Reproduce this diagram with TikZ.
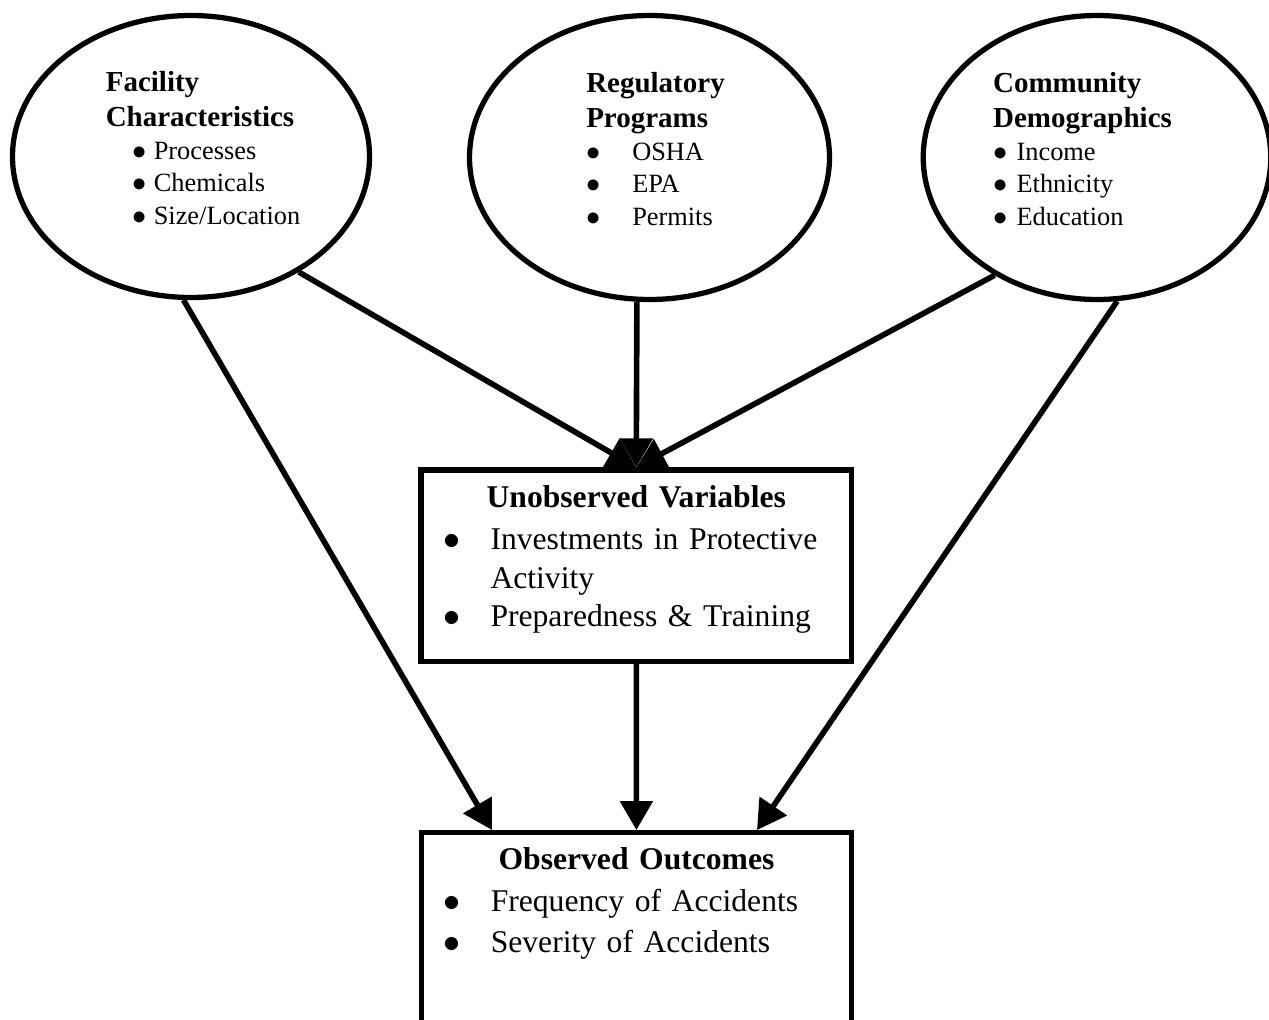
\documentclass[tikz,border=0pt]{standalone}
\usepackage{fontspec}
\setmainfont{Liberation Serif}
\usetikzlibrary{arrows.meta,shapes.geometric}
\newcommand{\hdfont}{\fontsize{16.5}{19.5}\selectfont\bfseries}
\newcommand{\ptfont}{\fontsize{15}{18.5}\selectfont}
\newcommand{\bxfont}{\fontsize{18}{22}\selectfont}
\newcommand{\bigdot}{\scalebox{1.12}{$\bullet$}}
\newcommand{\bul}[2]{\makebox[#1][l]{\bigdot}#2}
\newcommand{\bitem}[1]{\par\hangindent=0.94cm\hangafter=1\noindent\makebox[0.94cm][l]{\bigdot}#1}

\begin{document}
\begin{tikzpicture}[
  blob/.style={ellipse, draw, line width=3pt, inner sep=0pt, font=\ptfont},
  box/.style={rectangle, draw, line width=3pt, minimum width=8.61cm,
              text width=7.71cm, inner xsep=0.45cm, align=left, font=\bxfont},
  arr/.style={-{Triangle[length=5.8mm, width=6.4mm]}, line width=3.2pt}
]
  \useasboundingbox (0,0) rectangle (25.38,-20.38);

  \node[blob, minimum width=7.14cm, minimum height=5.64cm] (fac) at (3.82,-3.13)
    {\begin{tabular}{@{\hspace{0.48cm}}l@{}}
     {\hdfont Facility}\\[1.5pt]
     {\hdfont Characteristics}\\
     \hspace*{0.54cm}\bul{0.42cm}{Processes}\\
     \hspace*{0.54cm}\bul{0.42cm}{Chemicals}\\
     \hspace*{0.54cm}\bul{0.42cm}{Size/Location}\\[0.2cm]
     \end{tabular}};
  \node[blob, minimum width=7.2cm, minimum height=5.68cm] (reg) at (12.99,-3.15)
    {\begin{tabular}{@{\hspace{0.24cm}}l@{}}
     {\hdfont Regulatory}\\[1.5pt]
     {\hdfont Programs}\\
     \bul{0.92cm}{OSHA}\\
     \bul{0.92cm}{EPA}\\
     \bul{0.92cm}{Permits}\\[0.2cm]
     \end{tabular}};
  \node[blob, minimum width=6.95cm, minimum height=5.68cm] (com) at (21.94,-3.15)
    {\begin{tabular}{@{}l@{\hspace{0.58cm}}}
     {\hdfont Community}\\[1.5pt]
     {\hdfont Demographics}\\
     \bul{0.47cm}{Income}\\
     \bul{0.47cm}{Ethnicity}\\
     \bul{0.47cm}{Education}\\[0.2cm]
     \end{tabular}};

  \node[box, minimum height=3.83cm] (unobs) at (12.725,-11.315)
    {{\centering\textbf{Unobserved Variables}\par}\vspace{2pt}
     \bitem{Investments in Protective\newline Activity}
     \bitem{Preparedness \& Training\rule[-11pt]{0pt}{0pt}}};
  \node[box, anchor=north, inner ysep=0.3cm] (obs) at (12.73,-16.6)
    {{\centering\textbf{Observed Outcomes}\par}\vspace{2pt}
     \bitem{Frequency of Accidents}\par\vspace{1pt}
     \bitem{Severity of Accidents}\par\noindent\rule{0pt}{2.6cm}};

  \draw[arr] (fac.-47.3) -- (unobs.north);
  \draw[arr] (reg.-95.3) -- (unobs.north);
  \draw[arr] (com.-131) -- (unobs.north);
  \draw[arr] (fac.-93.5) -- ([xshift=-2.89cm]obs.north);
  \draw[arr] (unobs) -- (obs);
  \draw[arr] (com.-82) -- ([xshift=2.41cm]obs.north);
\end{tikzpicture}
\end{document}
